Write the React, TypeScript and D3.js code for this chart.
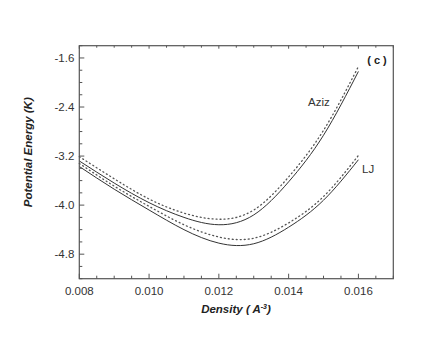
import React from 'react'
import * as d3 from 'd3'

const density = [0.008, 0.009, 0.010, 0.011, 0.012, 0.013, 0.014, 0.015, 0.016]
const azizSolid = [-3.28, -3.64, -3.96, -4.20, -4.32, -4.16, -3.62, -2.86, -1.82]
const azizDotted = [-3.21, -3.57, -3.90, -4.13, -4.23, -4.08, -3.54, -2.78, -1.74]
const ljSolid = [-3.37, -3.74, -4.08, -4.40, -4.62, -4.63, -4.36, -3.92, -3.26]
const ljDotted = [-3.32, -3.69, -4.02, -4.32, -4.52, -4.54, -4.29, -3.86, -3.19]

const xTicks = [0.008, 0.010, 0.012, 0.014, 0.016]
const yTicks = [-1.6, -2.4, -3.2, -4.0, -4.8]

const W = 439, H = 346
const left = 79.3, right = 393.3, top = 45.7, bottom = 278.7

export default function App() {
  const x = d3.scaleLinear().domain([0.008, 0.017]).range([left, right])
  const y = d3.scaleLinear().domain([-5.2, -1.4]).range([bottom, top])

  const line = d3.line<number>()
    .x((_, i) => x(density[i]))
    .y(d => y(d))
    .curve(d3.curveNatural)

  const xMinor = d3.range(0.008, 0.0170001, 0.0005)
  const yMinor = d3.range(-5.2, -1.3999, 0.2)
  const frame = '#555'
  const font = 'Arial, "Liberation Sans", sans-serif'

  const series = [
    { v: azizSolid, dash: null },
    { v: azizDotted, dash: '1 3' },
    { v: ljSolid, dash: null },
    { v: ljDotted, dash: '1 3' },
  ]

  return (
    <svg width={W} height={H} style={{ position: 'absolute', left: 0, top: 0 }}>
      <rect width={W} height={H} fill="#fff" />
      {series.map((s, i) => (
        <path key={i} d={line(s.v) || ''} fill="none"
          stroke={s.dash ? '#555' : '#333'} strokeWidth={s.dash ? 1.3 : 1}
          strokeDasharray={s.dash || undefined} strokeLinecap={s.dash ? 'round' : 'butt'} />
      ))}
      <rect x={left} y={top} width={right - left} height={bottom - top} fill="none" stroke={frame} strokeWidth={1.2} />
      {xMinor.map((t, i) => {
        const major = xTicks.some(m => Math.abs(m - t) < 1e-7)
        return (
          <g key={'x' + i}>
            <line x1={x(t)} x2={x(t)} y1={bottom} y2={bottom - (major ? 5 : 3)} stroke={frame} />
            <line x1={x(t)} x2={x(t)} y1={top} y2={top + (major ? 3 : 2)} stroke={frame} />
          </g>
        )
      })}
      {yMinor.map((t, i) => {
        const major = yTicks.some(m => Math.abs(m - t) < 1e-7)
        return <line key={'y' + i} x1={left} x2={left + (major ? 5 : 3)} y1={y(t)} y2={y(t)} stroke={frame} />
      })}
      {xTicks.map(t => (
        <text key={'xl' + t} x={x(t)} y={bottom + 16} textAnchor="middle" fontFamily={font} fontSize={11.5} fill="#333">
          {t.toFixed(3)}
        </text>
      ))}
      {yTicks.map(t => (
        <text key={'yl' + t} x={left - 5} y={y(t) + 4} textAnchor="end" fontFamily={font} fontSize={11.5} fill="#333">
          {t.toFixed(1)}
        </text>
      ))}
      <text x={236} y={313} textAnchor="middle" fontFamily={font} fontSize={11.5} fontWeight="bold" fontStyle="italic" fill="#222">
        Density ( A<tspan dy={-4} fontSize={7}>-3</tspan><tspan dy={4}>)</tspan>
      </text>
      <text transform={`translate(32, ${(top + bottom) / 2 - 10}) rotate(-90)`} textAnchor="middle" fontFamily={font}
        fontSize={11.5} fontWeight="bold" fontStyle="italic" fill="#222">
        Potential Energy (K)
      </text>
      <text x={377} y={64} textAnchor="middle" fontFamily={font} fontSize={11} fontWeight="bold" fill="#222">( c )</text>
      <text x={308} y={106} fontFamily={font} fontSize={11.5} fill="#333">Aziz</text>
      <text x={362} y={173} fontFamily={font} fontSize={11.5} fill="#333">LJ</text>
    </svg>
  )
}
